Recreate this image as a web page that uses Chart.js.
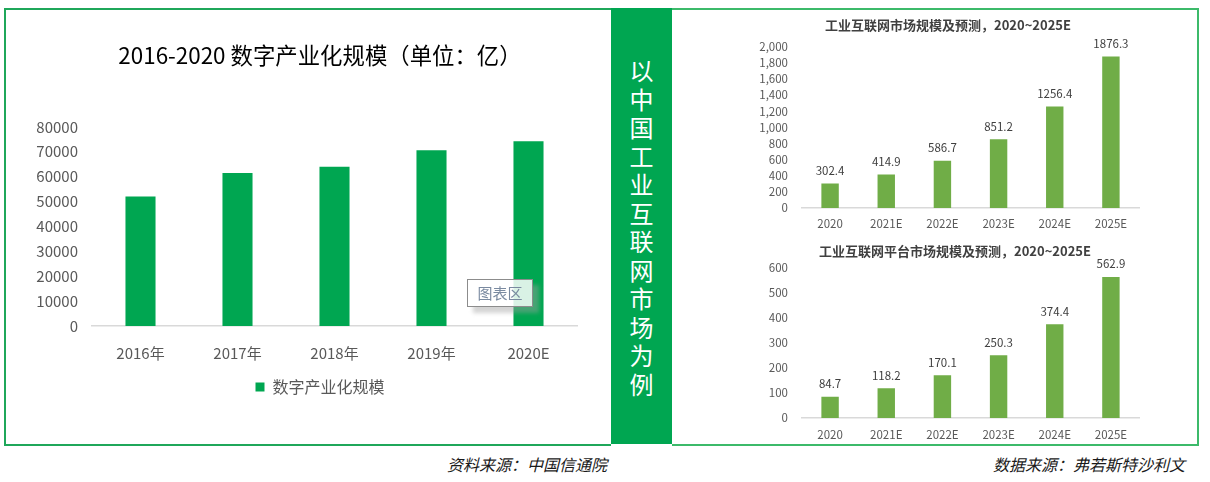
<!DOCTYPE html>
<html lang="zh-CN">
<head>
    <meta charset="UTF-8">
    <title>数字产业化规模 / 工业互联网市场</title>
    <script src="https://cdn.jsdelivr.net/npm/chart.js@4.4.1/dist/chart.umd.min.js"></script>
    <style>
        html, body { margin: 0; padding: 0; background: #fff; }
        body { width: 1210px; height: 482px; position: relative; overflow: hidden;
               font-family: "Noto Sans CJK SC", "Noto Sans", sans-serif; }
        .frame-left { position: absolute; left: 4px; top: 8px; width: 605px; height: 434px;
                      border: 2px solid #1fa75a; border-right: none; }
        .frame-right { position: absolute; left: 672px; top: 8px; width: 525px; height: 434px;
                       border: 2px solid #3cba6a; border-left: none; }
        .band { position: absolute; left: 611px; top: 8px; width: 61px; height: 436px; background: #00a651; }
        .band-text { position: absolute; left: 611px; top: 56px; width: 61px; text-align: center;
                     color: #fff; font-size: 24px; line-height: 28.5px; }
        canvas { position: absolute; }
        #leftChart { left: 5px; top: 10px; }
        #topChart { left: 673px; top: 10px; }
        #bottomChart { left: 673px; top: 238px; }
        .tip { position: absolute; left: 467px; top: 279px; width: 64px; height: 26px; background: rgba(255,255,255,0.85);
               border: 1px solid #8c8c8c; box-shadow: 6px 6px 4px rgba(160,160,160,0.45);
               color: #7a8aa0; font-size: 15px; line-height: 26px; text-align: center; }
        .source { position: absolute; top: 452px; font-size: 16px; font-style: italic; color: #1a1a1a; }
    </style>
</head>
<body>
    <div class="frame-left"></div>
    <div class="frame-right"></div>
    <div class="band"></div>
    <div class="band-text">以<br>中<br>国<br>工<br>业<br>互<br>联<br>网<br>市<br>场<br>为<br>例</div>

    <canvas id="leftChart" width="606" height="434"></canvas>
    <canvas id="topChart" width="524" height="228"></canvas>
    <canvas id="bottomChart" width="524" height="206"></canvas>

    <div class="tip">图表区</div>
    <div class="source" style="left:447px;">资料来源：中国信通院</div>
    <div class="source" style="left:993px;">数据来源：弗若斯特沙利文</div>

    <script>
        // left chart: 数字产业化规模 (亿)
        const digitalYears = ['2016年', '2017年', '2018年', '2019年', '2020E'];
        const digitalValues = [52000, 61500, 64000, 70600, 74200];

        // right charts: 工业互联网
        const forecastYears = ['2020', '2021E', '2022E', '2023E', '2024E', '2025E'];
        const marketValues = [302.4, 414.9, 586.7, 851.2, 1256.4, 1876.3];
        const platformValues = [84.7, 118.2, 170.1, 250.3, 374.4, 562.9];

        const CJK = '"Noto Sans CJK SC", "Noto Sans", sans-serif';
        Chart.defaults.font.family = CJK;
        Chart.defaults.color = '#595959';

        // draws the value above each bar
        const valueLabels = {
            id: 'valueLabels',
            afterDatasetsDraw(chart, args, opts) {
                const ctx = chart.ctx;
                const meta = chart.getDatasetMeta(0);
                const values = chart.data.datasets[0].data;
                ctx.save();
                ctx.font = opts.size + 'px ' + CJK;
                ctx.fillStyle = '#404040';
                ctx.textAlign = 'center';
                ctx.textBaseline = 'middle';
                meta.data.forEach((bar, i) => {
                    ctx.fillText(values[i].toFixed(1), bar.x, bar.y - opts.offset);
                });
                ctx.restore();
            }
        };

        // empty axis on the right, only used to shift where the title is centred
        function spacer(w) {
            return {
                type: 'linear', axis: 'y', position: 'right', display: true,
                grid: { display: false, drawTicks: false }, border: { display: false },
                ticks: { display: false },
                afterFit(scale) { scale.width = w; }
            };
        }

        new Chart(document.getElementById('leftChart'), {
            type: 'bar',
            data: {
                labels: digitalYears,
                datasets: [{
                    label: '数字产业化规模',
                    data: digitalValues,
                    backgroundColor: '#00a651',
                    barPercentage: 0.31,
                    categoryPercentage: 1
                }]
            },
            options: {
                responsive: false,
                animation: false,
                layout: { padding: { left: 28, right: 4, top: 0, bottom: 39 } },
                scales: {
                    x: {
                        grid: { display: false },
                        border: { display: true, color: '#d9d9d9', width: 1.5 },
                        ticks: { font: { size: 15 }, padding: 10 },
                        afterFit(scale) { scale.height = 43; }
                    },
                    y: {
                        min: 0, max: 80000,
                        grid: { display: false },
                        border: { display: false },
                        ticks: { stepSize: 10000, autoSkip: false, font: { size: 15 }, padding: 6, callback: v => String(v) },
                        afterFit(scale) { scale.width = 59; }
                    },
                    pad: spacer(30)
                },
                plugins: {
                    title: {
                        display: true,
                        text: '2016-2020 数字产业化规模（单位：亿）',
                        color: '#000',
                        font: { size: 22.4, weight: 'normal' },
                        padding: { top: 32, bottom: 58 }
                    },
                    legend: {
                        position: 'bottom',
                        labels: { boxWidth: 9, boxHeight: 9, padding: 10, font: { size: 16 }, color: '#595959' }
                    },
                    tooltip: { enabled: false }
                }
            }
        });

        function forecastChart(id, values, title, max, step, pad, titlePad, xPad, xHeight, rightW) {
            return new Chart(document.getElementById(id), {
                type: 'bar',
                data: {
                    labels: forecastYears,
                    datasets: [{
                        data: values,
                        backgroundColor: '#70ad47',
                        barPercentage: 0.31,
                        categoryPercentage: 1
                    }]
                },
                plugins: [valueLabels],
                options: {
                    responsive: false,
                    animation: false,
                    layout: { padding: pad },
                    scales: {
                        x: {
                            grid: { display: false },
                            border: { display: true, color: '#d9d9d9', width: 1.5 },
                            ticks: { font: { size: 11.5 }, padding: xPad },
                            afterFit(scale) { scale.height = xHeight; }
                        },
                        y: {
                            min: 0, max: max,
                            grid: { display: false },
                            border: { display: false },
                            ticks: { stepSize: step, autoSkip: false, font: { size: 11.5 }, padding: 6 },
                            afterFit(scale) { scale.width = 45; }
                        },
                        pad: spacer(rightW)
                    },
                    plugins: {
                        title: {
                            display: true,
                            text: title,
                            color: '#404040',
                            font: { size: 13, weight: 'bold' },
                            padding: titlePad
                        },
                        legend: { display: false },
                        tooltip: { enabled: false },
                        valueLabels: { size: 11.5, offset: 13 }
                    }
                }
            });
        }

        forecastChart('topChart', marketValues, '工业互联网市场规模及预测，2020~2025E',
            2000, 200, { left: 84, right: 58, top: 0, bottom: 0 }, { top: 7, bottom: 14 }, 1, 30, 0);
        forecastChart('bottomChart', platformValues, '工业互联网平台市场规模及预测，2020~2025E',
            600, 100, { left: 84, right: 44, top: 0, bottom: 0 }, { top: 5, bottom: 9 }, 2, 26, 14);
    </script>
</body>
</html>
